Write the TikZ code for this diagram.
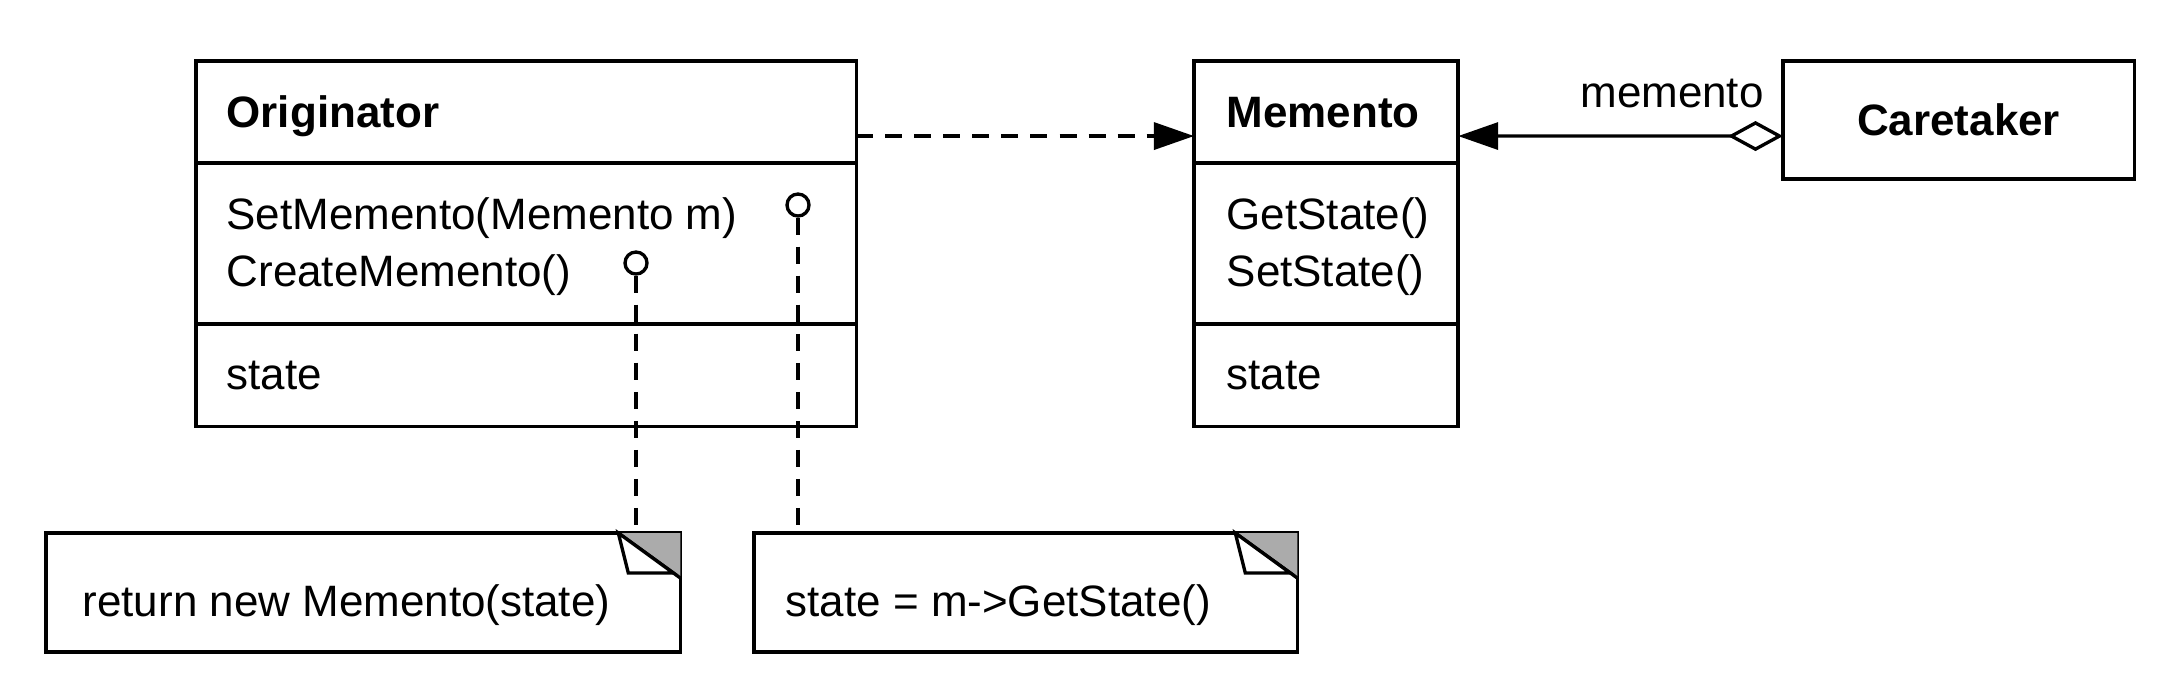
\documentclass[tikz,border=0pt]{standalone}
\usepackage{fontspec}
\setmainfont{Liberation Sans}
\usetikzlibrary{arrows.meta,positioning}

\definecolor{foldgray}{gray}{0.67}

\tikzset{
  compart/.style={draw, inner sep=0pt, outer sep=0pt},
  txt/.style={inner sep=0pt},
  lolli/.style={circle, draw, fill=white, minimum size=0.22cm, inner sep=0pt},
  notebox/.style={draw, inner sep=0pt, outer sep=0pt},
  dashy/.style={dash pattern=on 0.17cm off 0.12cm},
  dep/.style={dashy, -{Triangle[length=0.4cm,width=0.27cm]}},
  aggr/.style={{Diamond[open,length=0.55cm,width=0.3cm]}-{Triangle[length=0.4cm,width=0.27cm]}},
  notelink/.style={dashy}
}

% folded corner of a note
\newcommand{\dogear}[1]{%
  \fill[foldgray] ([xshift=-0.62cm]#1.north east) -- (#1.north east) -- ([yshift=-0.45cm]#1.north east) -- cycle;
  \draw ([xshift=-0.62cm]#1.north east) -- ([yshift=-0.45cm]#1.north east);
  \draw[fill=white] ([xshift=-0.62cm]#1.north east) -- ([xshift=-0.52cm,yshift=-0.40cm]#1.north east)
    -- ([xshift=-0.07cm,yshift=-0.40cm]#1.north east) -- cycle;
}

\begin{document}
\begin{tikzpicture}[x=0.01cm, y=-0.01cm, line width=0.95pt,
    font=\fontsize{12.5}{15}\selectfont]
  \useasboundingbox (0,0) rectangle (2175,684);

  % Originator
  \node[compart, minimum width=6.6cm, minimum height=1.02cm, anchor=north west] (origname) at (196,61) {};
  \node[compart, minimum width=6.6cm, minimum height=1.61cm, below=0pt of origname] (origops) {};
  \node[compart, minimum width=6.6cm, minimum height=1.02cm, below=0pt of origops] (origattr) {};
  \node[txt, anchor=base west] (origtitle) at (225,127) {\bfseries Originator};
  \node[txt, anchor=base west] (setmem) at (225,229) {SetMemento(Memento m)};
  \node[txt, anchor=base west] (createmem) at (225,286) {CreateMemento()};
  \node[txt, anchor=base west] (origstate) at (225,389) {state};

  % Memento
  \node[compart, minimum width=2.64cm, minimum height=1.02cm, anchor=north west] (memname) at (1194,61) {};
  \node[compart, minimum width=2.64cm, minimum height=1.61cm, below=0pt of memname] (memops) {};
  \node[compart, minimum width=2.64cm, minimum height=1.02cm, below=0pt of memops] (memattr) {};
  \node[txt, anchor=base west] (memtitle) at (1225,127) {\bfseries Memento};
  \node[txt, anchor=base west] (getstate) at (1225,229) {GetState()};
  \node[txt, anchor=base west] (setstate) at (1225,286) {SetState()};
  \node[txt, anchor=base west] (memstate) at (1225,389) {state};

  % Caretaker
  \node[compart, minimum width=3.51cm, minimum height=1.18cm, anchor=north west, font=\fontsize{12.5}{15}\selectfont\bfseries] (caretaker) at (1783,61) {Caretaker};

  % notes
  \node[notebox, minimum width=6.34cm, minimum height=1.19cm, anchor=north west] (note1) at (46,533) {};
  \node[notebox, minimum width=5.43cm, minimum height=1.19cm, anchor=north west] (note2) at (754,533) {};
  \dogear{note1}
  \dogear{note2}
  \node[txt, anchor=base west] (note1text) at (81,616) {return new Memento(state)};
  \node[txt, anchor=base west] (note2text) at (784,616) {state = m->GetState()};

  % connectors
  \draw[dep] ([yshift=-0.24cm]origname.east) -- ([yshift=-0.24cm]memname.west);
  \draw[aggr] ([yshift=-0.16cm]caretaker.west) -- ([yshift=-0.24cm]memname.east);
  \node[txt, anchor=base] (rolename) at (1672,107) {memento};

  \node[lolli] (lp1) at (798,205) {};
  \node[lolli] (lp2) at (636,263) {};
  \draw[notelink] (lp1) -- (lp1 |- note2.north);
  \draw[notelink] (lp2) -- (lp2 |- note1.north);
\end{tikzpicture}
\end{document}
